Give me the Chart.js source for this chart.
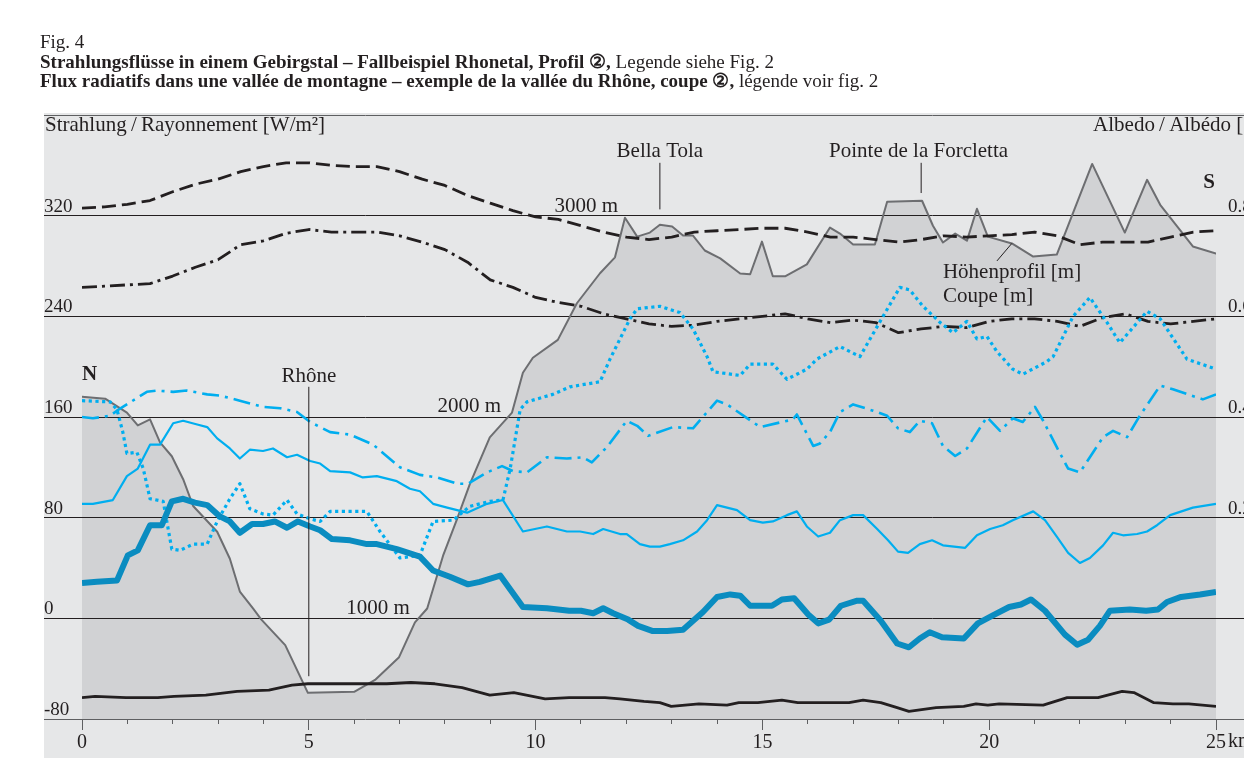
<!DOCTYPE html>
<html>
<head>
<meta charset="utf-8">
<script src="https://cdn.jsdelivr.net/npm/chart.js@4.4.1/dist/chart.umd.min.js"></script>
<style>
  html, body { margin: 0; padding: 0; background: #fff; overflow: hidden; }
  #wrap { position: relative; width: 1244px; height: 764px; overflow: hidden; }
  #chart { position: absolute; left: 0; top: 0;
    background: linear-gradient(#e6e7e8, #e6e7e8) no-repeat 44px 113px / 1256px 645px; }
  #cap { position: absolute; left: 40px; top: 32px; font-family: "Liberation Serif", serif;
    font-size: 19px; line-height: 19.5px; color: #231f20; white-space: nowrap; }
</style>
</head>
<body>
<div id="wrap">
  <canvas id="chart" width="1300" height="764"></canvas>
  <div id="cap">
    <div>Fig. 4</div>
    <div><b>Strahlungsflüsse in einem Gebirgstal – Fallbeispiel Rhonetal, Profil ②,</b> Legende siehe Fig. 2</div>
    <div><b>Flux radiatifs dans une vallée de montagne – exemple de la vallée du Rhône, coupe ②,</b> légende voir fig. 2</div>
  </div>
</div>
<script>
// distance along the section [km] and values
const kmHalf = [0, 0.5, 1, 1.5, 2, 2.5, 3, 3.5, 4, 4.5, 5, 5.5, 6, 6.5, 7, 7.5, 8, 8.5, 9, 9.5,
  10, 10.5, 11, 11.5, 12, 12.5, 13, 13.5, 14, 14.5, 15, 15.5, 16, 16.5, 17, 17.5, 18, 18.5, 19, 19.5,
  20, 20.5, 21, 21.5, 22, 22.5, 23, 23.5, 24, 24.5, 25];

// black dashed
const dashedVal = [326, 327, 329, 332, 339, 345, 349, 355, 359, 362, 362, 360, 359, 359, 355, 349, 344, 336, 330, 324,
  319, 317, 312, 307, 303, 301, 303, 307, 308, 309, 310, 310, 307, 303, 303, 301, 299, 301, 304, 303,
  304, 305, 307, 304, 297, 299, 299, 299, 303, 307, 308];

// black dash-dot
const dashDotVal = [263, 264, 265, 266, 272, 279, 285, 297, 300, 306, 309, 307, 307, 307, 304, 299, 293, 283, 269, 263,
  255, 251, 248, 242, 238, 234, 232, 233, 236, 238, 240, 242, 238, 235, 237, 235, 227, 230, 232, 231,
  236, 238, 238, 236, 232, 239, 242, 236, 234, 236, 238];

// cyan dotted
const kmDot = [0, 0.62, 0.77, 0.90, 0.99, 1.21, 1.35, 1.50, 1.79, 1.98, 2.16, 2.45, 2.76, 2.98, 3.26, 3.48, 3.70, 3.99,
  4.21, 4.52, 4.74, 5.03, 5.25, 5.47, 6.28, 6.57, 7.01, 7.45, 7.74, 8.18, 8.55, 8.99, 9.28, 9.44, 9.66, 9.81,
  10.38, 10.76, 11.42, 11.64, 12.08, 12.24, 12.74, 13.18, 13.47, 13.78, 13.91, 14.51, 14.73, 15.23, 15.54,
  15.98, 16.20, 16.71, 17.15, 17.66, 18.03, 18.25, 18.54, 18.92, 19.20, 19.51, 19.73, 19.95, 20.17, 20.52,
  20.74, 21.27, 21.41, 21.85, 22.22, 22.60, 22.88, 23.48, 23.77, 24.36, 25];
const dotVal = [173, 172, 166, 148, 131, 132, 119, 95, 93, 55, 54, 59, 59, 77, 95, 107, 87, 83,
  82, 94, 83, 79, 77, 85, 85, 69, 48, 50, 77, 78, 89, 93, 94, 119, 166, 172,
  178, 184, 188, 206, 238, 246, 248, 243, 230, 208, 196, 193, 202, 202, 190,
  198, 206, 216, 208, 240, 263, 261, 248, 235, 227, 236, 222, 224, 212, 198,
  194, 204, 208, 240, 255, 235, 219, 244, 238, 206, 198];

// cyan dash-dot
const kmDd = [0, 0.24, 0.62, 0.77, 1.43, 1.65, 2.01, 2.31, 2.76, 3.04, 3.48, 3.99, 4.37, 4.74, 5.03, 5.47, 5.91,
  6.42, 7.01, 7.45, 7.83, 8.27, 8.51, 8.93, 9.26, 9.50, 9.81, 10.25, 10.69, 11.04, 11.24, 11.57, 12.01,
  12.24, 12.48, 13.03, 13.47, 14.00, 14.22, 14.95, 15.67, 15.76, 16.12, 16.27, 16.49, 16.71, 17.00, 17.44,
  17.75, 17.99, 18.25, 18.47, 18.74, 18.98, 19.25, 19.51, 19.95, 20.24, 20.52, 20.74, 21.01, 21.19, 21.49,
  21.74, 22.00, 22.51, 22.73, 23.04, 23.32, 23.77, 24.05, 24.71, 25];
const ddVal = [160, 159, 161, 165, 180, 181, 180, 181, 178, 177, 173, 168, 167, 164, 156, 148, 146,
  138, 120, 114, 112, 107, 107, 116, 121, 117, 116, 128, 127, 128, 124, 136, 157,
  153, 145, 152, 151, 173, 170, 152, 158, 162, 137, 139, 148, 164, 170, 165,
  161, 151, 148, 157, 155, 137, 129, 135, 160, 149, 159, 156, 168, 157, 136,
  119, 116, 144, 149, 144, 161, 185, 182, 174, 178];

// cyan solid
const kmSol = [0, 0.24, 0.68, 0.99, 1.23, 1.50, 1.72, 2.01, 2.23, 2.54, 2.76, 2.98, 3.26, 3.48, 3.70, 3.99, 4.21,
  4.52, 4.74, 5.03, 5.25, 5.47, 5.91, 6.19, 6.50, 6.94, 7.23, 7.45, 7.74, 8.05, 8.49, 8.93, 9.28, 9.72,
  10.25, 10.69, 10.98, 11.27, 11.49, 11.86, 12.01, 12.30, 12.52, 12.74, 12.96, 13.25, 13.56, 13.78, 14.00,
  14.44, 14.73, 15.01, 15.23, 15.54, 15.76, 15.98, 16.23, 16.49, 16.71, 17.00, 17.22, 17.53, 17.77, 17.99,
  18.21, 18.47, 18.74, 18.98, 19.47, 19.73, 20.02, 20.30, 20.52, 20.97, 21.23, 21.49, 21.74, 22.00, 22.22,
  22.51, 22.73, 22.95, 23.26, 23.48, 23.70, 23.99, 24.49, 25];
const solVal = [91, 91, 94, 113, 119, 138, 138, 155, 157, 154, 152, 143, 135, 127, 134, 133, 135,
  128, 130, 125, 123, 117, 116, 112, 113, 109, 103, 101, 91, 88, 84, 91, 94, 69,
  73, 69, 69, 67, 71, 67, 67, 59, 57, 57, 59, 62, 69, 78, 90,
  86, 78, 76, 77, 82, 85, 73, 65, 68, 78, 82, 82, 71, 62, 53,
  52, 59, 62, 58, 56, 66, 71, 74, 78, 85, 78, 65, 52, 44, 48,
  58, 68, 66, 67, 69, 74, 82, 88, 91];

// thick blue
const kmThick = [0, 0.33, 0.77, 1.01, 1.23, 1.50, 1.76, 1.98, 2.23, 2.49, 2.76, 3.04, 3.26, 3.48, 3.75, 3.99,
  4.25, 4.52, 4.76, 5.03, 5.25, 5.51, 5.91, 6.28, 6.50, 6.94, 7.45, 7.74, 8.11, 8.51, 8.77, 9.22, 9.72,
  10.25, 10.74, 11.00, 11.27, 11.49, 11.71, 12.04, 12.26, 12.57, 12.90, 13.25, 13.69, 14.00, 14.29, 14.51,
  14.73, 15.21, 15.43, 15.70, 16.01, 16.23, 16.47, 16.73, 17.09, 17.22, 17.61, 17.97, 18.23, 18.47, 18.69,
  18.96, 19.44, 19.75, 20.06, 20.44, 20.70, 20.92, 21.23, 21.67, 21.94, 22.18, 22.44, 22.66, 23.10, 23.46,
  23.72, 23.92, 24.23, 24.65, 25];
const thickVal = [28, 29, 30, 50, 54, 74, 74, 93, 95, 92, 90, 81, 77, 68, 75, 75,
  77, 72, 77, 73, 70, 63, 62, 59, 59, 55, 49, 38, 33, 27, 29, 34, 9,
  8, 6, 6, 4, 8, 4, -1, -6, -10, -10, -9, 5, 17, 19, 18,
  10, 10, 15, 16, 3, -4, -1, 10, 14, 14, -2, -20, -23, -16, -11,
  -15, -16, -4, 2, 9, 11, 15, 6, -13, -21, -17, -6, 6, 7, 6,
  7, 13, 17, 19, 21];

// black solid (lowest)
const kmLow = [0, 0.29, 0.97, 1.67, 2.03, 2.73, 3.42, 4.12, 4.63, 4.98, 5.51, 6.04, 6.72, 7.25, 7.78, 8.38,
  8.99, 9.52, 10.21, 10.74, 11.27, 11.53, 11.86, 12.39, 12.74, 12.99, 13.60, 14.22, 14.48, 14.90, 15.43,
  15.78, 16.40, 16.91, 17.22, 17.61, 17.97, 18.23, 18.83, 19.44, 19.71, 19.97, 20.22, 21.19, 21.72, 22.40,
  22.93, 23.19, 23.63, 24.05, 24.40, 25];
const lowVal = [-63, -62, -63, -63, -62, -61, -58, -57, -53, -52, -52, -52, -52, -51, -52, -55,
  -61, -59, -64, -63, -63, -63, -64, -66, -67, -70, -68, -69, -67, -67, -65,
  -67, -67, -67, -65, -67, -71, -74, -71, -70, -68, -69, -68, -69, -63, -63,
  -58, -59, -67, -68, -68, -70];

// elevation profile [m]
const kmProf = [0, 0.51, 0.99, 1.23, 1.50, 1.72, 1.98, 2.23, 2.45, 2.98, 3.26, 3.48, 3.77, 3.95, 4.48, 4.98,
  6.00, 6.46, 6.99, 7.34, 7.61, 7.96, 8.27, 8.55, 8.99, 9.48, 9.72, 9.94, 10.49, 10.91, 11.42, 11.75, 11.97,
  12.24, 12.52, 12.74, 13.01, 13.25, 13.47, 13.73, 14.07, 14.51, 14.73, 14.99, 15.23, 15.50, 15.98, 16.49,
  16.71, 17.00, 17.48, 17.75, 18.52, 18.76, 18.98, 19.25, 19.51, 19.73, 19.97, 20.50, 20.97, 21.49, 22.27,
  22.99, 23.48, 23.77, 24.49, 25];
const profM = [2101, 2091, 2022, 1958, 1988, 1874, 1805, 1691, 1558, 1430, 1296, 1133, 1049, 995, 867, 630,
  635, 694, 807, 980, 1049, 1311, 1494, 1667, 1899, 2022, 2220, 2294, 2383, 2565, 2714, 2793, 2990,
  2896, 2916, 2955, 2946, 2901, 2901, 2827, 2788, 2713, 2709, 2871, 2699, 2699, 2758, 2941,
  2911, 2857, 2857, 3069, 3074, 2950, 2867, 2911, 2876, 3034, 2896, 2862, 2797, 2807, 3257,
  2916, 3178, 3054, 2847, 2812];

const albedoLabels = { 80: '0.2', 160: '0.4', 240: '0.6', 320: '0.8' };

// text placed in data units: [text, km, W/m², align, bold]
const notes = [
  ['Strahlung\u2009/\u2009Rayonnement [W/m²]', -0.815, 392, 'left', false],
  ['Albedo\u2009/\u2009Albédo [-]', 22.29, 392, 'left', false],
  ['Bella Tola', 12.74, 371, 'center', false],
  ['Pointe de la Forcletta', 16.47, 371, 'left', false],
  ['S', 24.85, 346, 'center', true],
  ['N', 0, 194, 'left', true],
  ['Rhône', 5.0, 192, 'center', false],
  ['3000 m', 11.82, 327, 'right', false],
  ['2000 m', 9.24, 168, 'right', false],
  ['1000 m', 7.23, 8, 'right', false],
  ['Höhenprofil [m]', 18.98, 275, 'left', false],
  ['Coupe [m]', 18.98, 256, 'left', false],
];
const leaders = [[12.74, 362, 12.74, 325], [18.5, 362, 18.5, 338], [5.0, 184, 5.0, -46], [20.5, 298, 20.17, 284]];

const SERIF = '"Liberation Serif", "Times New Roman", serif';
const INK = '#231f20';
const EDGE = '#5e5f61';
const CYAN = '#00aeef';
const BLUE = '#0a8cc0';

function pts(xs, ys) {
  return xs.map((x, i) => ({ x: x, y: ys[i] }));
}
function lineColor(ctx) {
  const v = ctx.tick ? ctx.tick.value : 0;
  return (v === 400 || v === -80) ? EDGE : INK;
}

const notesPlugin = {
  id: 'notes',
  afterDatasetsDraw(chart) {
    const { ctx } = chart;
    const x = chart.scales.x, y = chart.scales.y;
    ctx.save();
    ctx.fillStyle = INK;
    ctx.strokeStyle = INK;
    ctx.lineWidth = 1;
    ctx.textBaseline = 'middle';
    leaders.forEach(l => {
      ctx.beginPath();
      ctx.moveTo(x.getPixelForValue(l[0]), y.getPixelForValue(l[1]));
      ctx.lineTo(x.getPixelForValue(l[2]), y.getPixelForValue(l[3]));
      ctx.stroke();
    });
    notes.forEach(n => {
      ctx.font = (n[4] ? 'bold ' : '') + '21px ' + SERIF;
      ctx.textAlign = n[3];
      ctx.fillText(n[0], x.getPixelForValue(n[1]), y.getPixelForValue(n[2]));
    });
    // unit after the last distance tick
    ctx.font = '20px ' + SERIF;
    ctx.textAlign = 'left';
    ctx.fillText('km', x.getPixelForValue(25) + 12, x.top + 23);
    ctx.restore();
  }
};

const lineBase = { pointRadius: 0, tension: 0, fill: false, borderCapStyle: 'butt', borderJoinStyle: 'round' };

new Chart(document.getElementById('chart'), {
  type: 'line',
  data: {
    datasets: [
      { ...lineBase, label: 'low', data: pts(kmLow, lowVal), borderColor: INK, borderWidth: 2.8 },
      { ...lineBase, label: 'thick', data: pts(kmThick, thickVal), borderColor: BLUE, borderWidth: 6 },
      { ...lineBase, label: 'solid', data: pts(kmSol, solVal), borderColor: CYAN, borderWidth: 2.2 },
      { ...lineBase, label: 'dashdot', data: pts(kmDd, ddVal), borderColor: CYAN, borderWidth: 2.6, borderDash: [17, 6, 3, 6] },
      { ...lineBase, label: 'dotted', data: pts(kmDot, dotVal), borderColor: CYAN, borderWidth: 3.2, borderDash: [3.2, 3.5] },
      { ...lineBase, label: 'blackDashDot', data: pts(kmHalf, dashDotVal), borderColor: INK, borderWidth: 2.8, borderDash: [15, 5, 3, 5] },
      { ...lineBase, label: 'blackDashed', data: pts(kmHalf, dashedVal), borderColor: INK, borderWidth: 2.8, borderDash: [14, 6] },
      { ...lineBase, label: 'profile', data: pts(kmProf, profM), yAxisID: 'yElev', borderColor: '#6d6e71',
        borderWidth: 2, fill: 'start', backgroundColor: '#d1d2d4', borderCapStyle: 'round' },
    ]
  },
  options: {
    responsive: false,
    animation: false,
    layout: { padding: { left: 44, top: 115, right: 0, bottom: 0 } },
    plugins: {
      legend: { display: false },
      tooltip: { enabled: false },
      filler: { drawTime: 'beforeDraw' }
    },
    scales: {
      x: {
        type: 'linear', position: 'bottom', min: 0, max: 25,
        afterFit: s => { s.height = 45; },
        border: { display: false },
        grid: {
          drawOnChartArea: false, tickLength: 11, tickColor: EDGE, lineWidth: 1,
          tickBorderDash: c => (c.tick && c.tick.value % 5 === 0) ? [] : [5, 40]
        },
        ticks: {
          stepSize: 1, autoSkip: false, maxRotation: 0, padding: 1, color: INK,
          font: { family: SERIF, size: 20 },
          callback: v => (v % 5 === 0 ? String(v) : '')
        }
      },
      y: {
        type: 'linear', position: 'left', min: -80, max: 400,
        afterFit: s => { s.width = 38; },
        border: { display: false },
        grid: { color: lineColor, tickColor: lineColor, lineWidth: 1, tickLength: 38 },
        ticks: {
          stepSize: 80, padding: 0, crossAlign: 'far', labelOffset: -9, color: INK,
          font: { family: SERIF, size: 19 },
          callback: v => (v === 400 ? '' : String(v))
        }
      },
      y2: {
        type: 'linear', position: 'right', min: -80, max: 400,
        afterFit: s => { s.width = 84; },
        border: { display: false },
        grid: { drawOnChartArea: false, color: lineColor, tickColor: lineColor, lineWidth: 1, tickLength: 84 },
        ticks: {
          stepSize: 80, padding: -72, crossAlign: 'near', labelOffset: -9, color: INK,
          font: { family: SERIF, size: 19 },
          callback: v => albedoLabels[v] || ''
        }
      },
      yElev: { type: 'linear', display: false, min: 500, max: 3500 }
    }
  },
  plugins: [notesPlugin]
});
</script>
</body>
</html>
